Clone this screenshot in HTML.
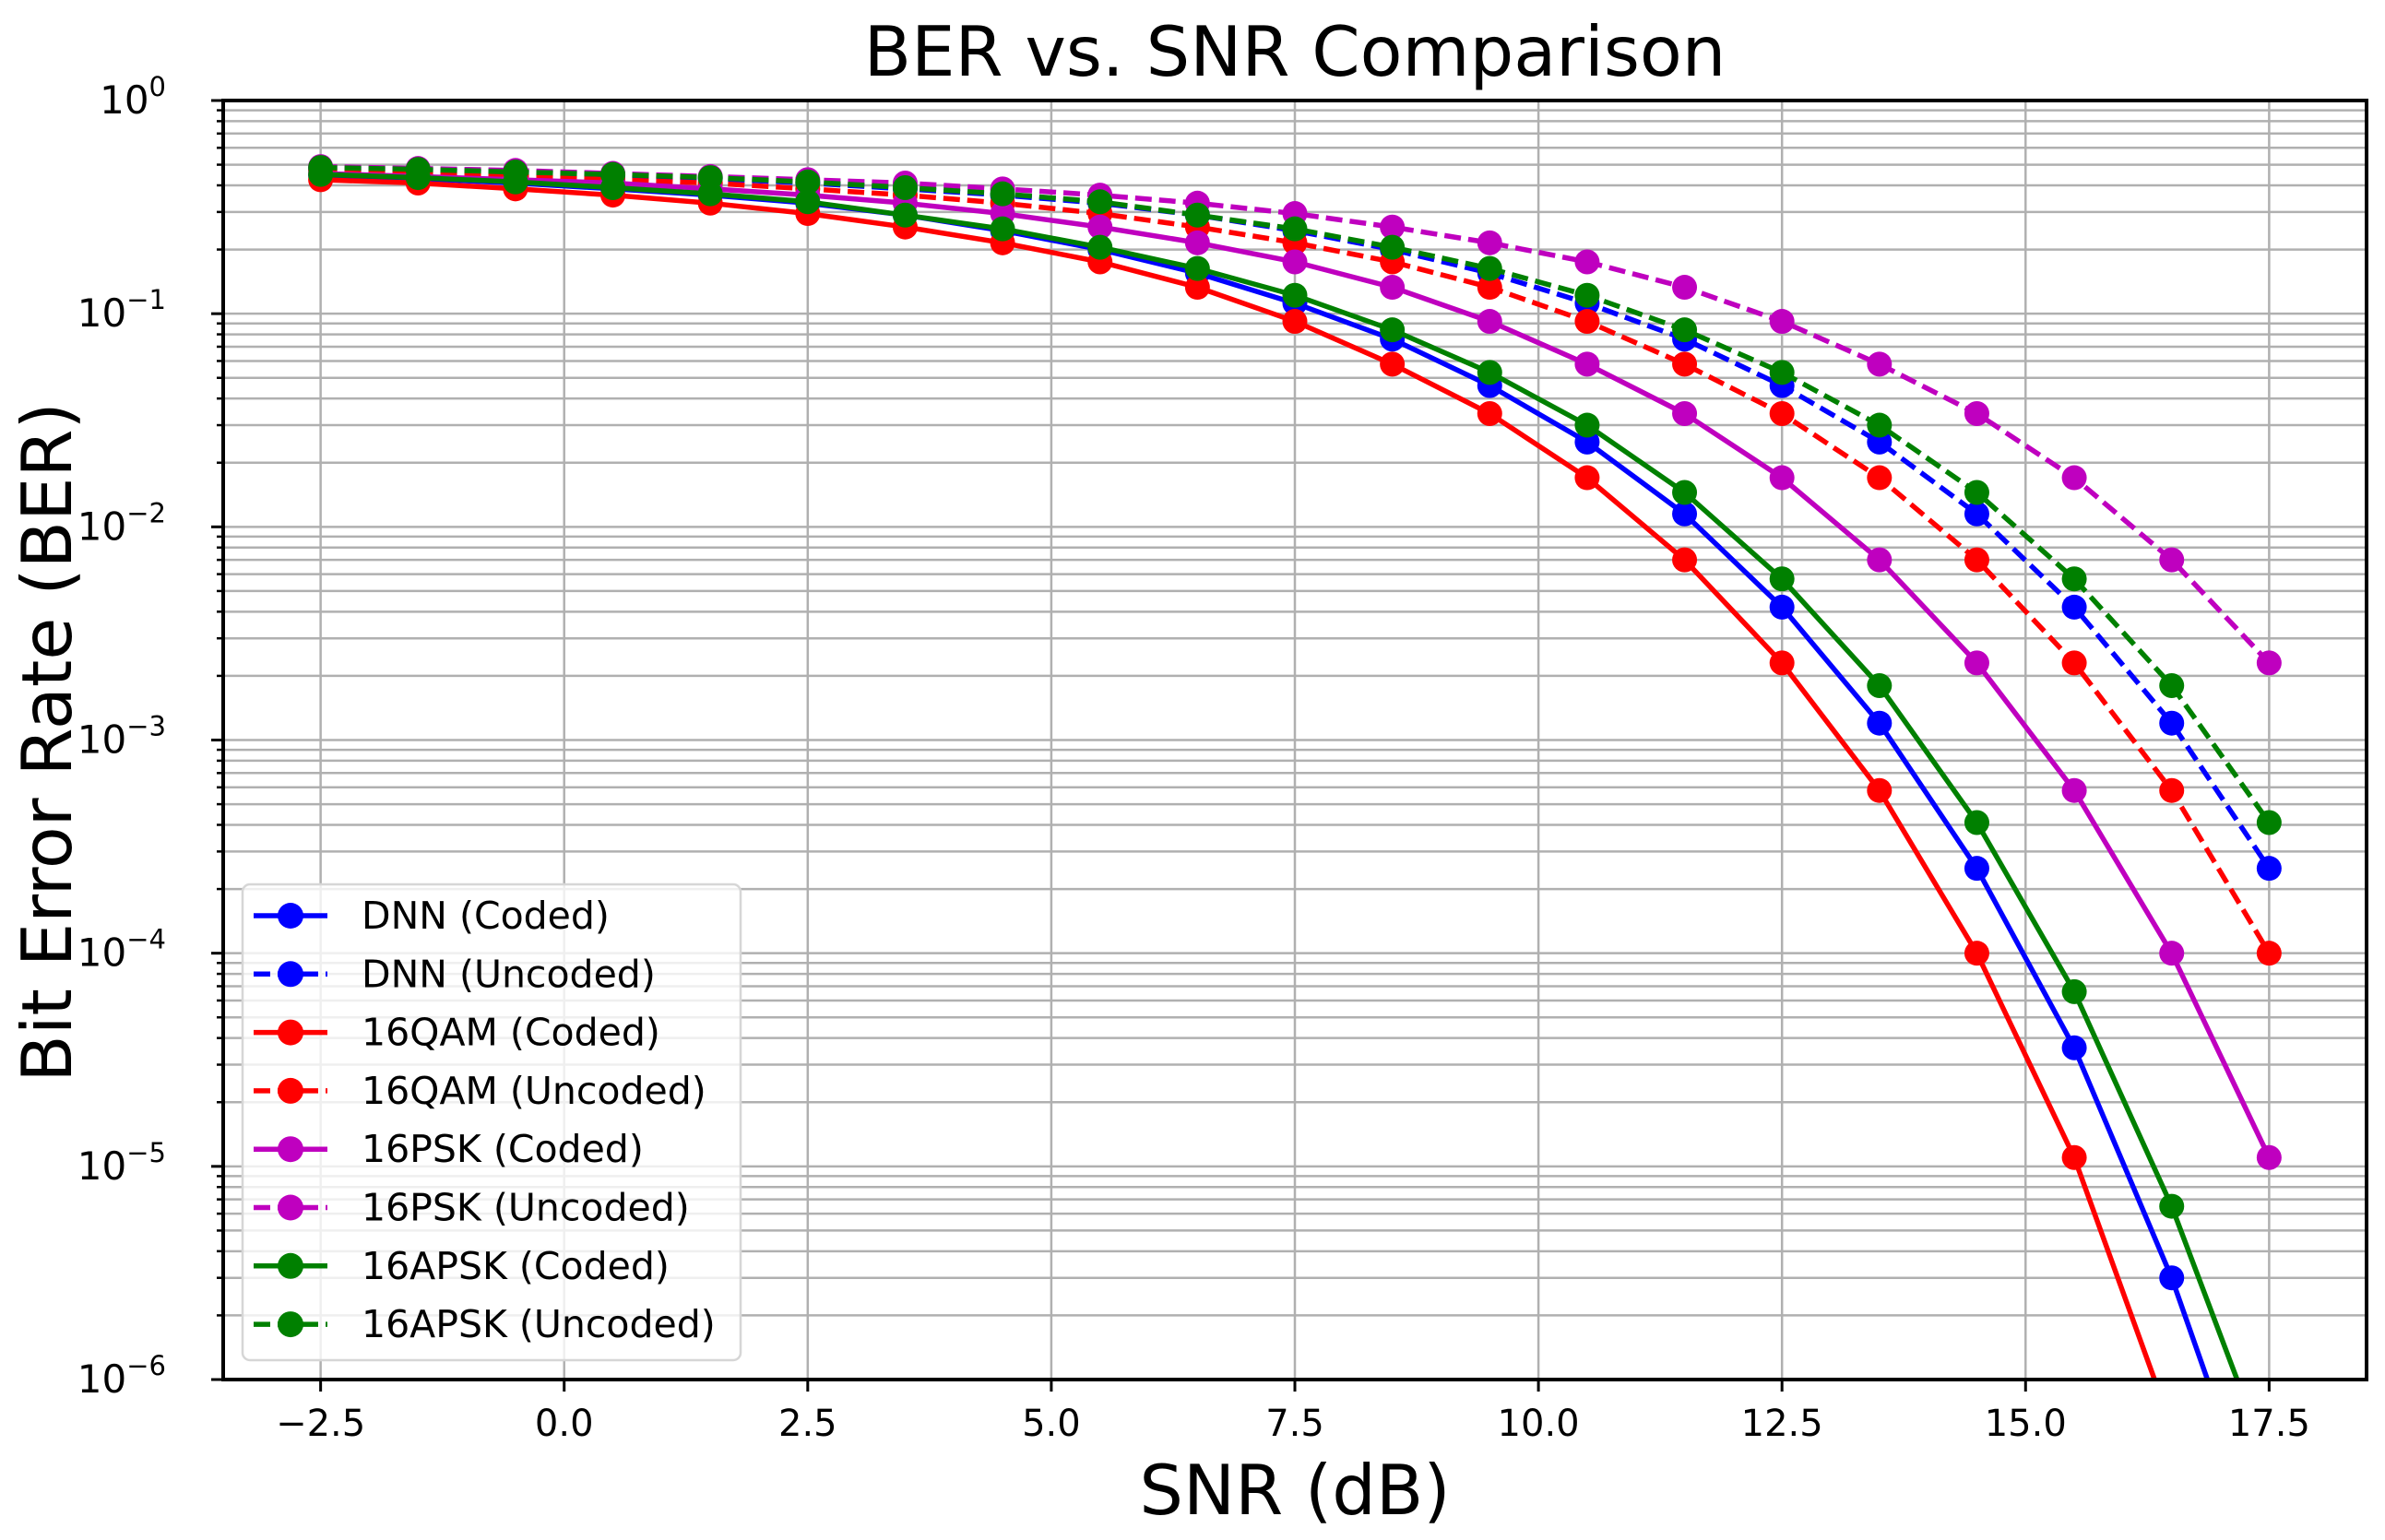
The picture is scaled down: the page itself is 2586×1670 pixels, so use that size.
<!DOCTYPE html>
<html><head><meta charset="utf-8"><style>
html,body{margin:0;padding:0;background:#fff;width:2586px;height:1670px;overflow:hidden;}
svg{display:block;font-family:"DejaVu Sans","Liberation Sans",sans-serif;}
</style></head><body>
<svg id="chart" width="2586" height="1670" viewBox="0 0 2586 1670">
<rect x="0" y="0" width="2586" height="1670" fill="#fff"/>
<defs><clipPath id="plotclip"><rect x="242" y="109" width="2324" height="1387"/></clipPath></defs>
<g id="grid"></g>
<g id="series" clip-path="url(#plotclip)"></g>
<rect x="242" y="109" width="2324" height="1387" fill="none" stroke="#000" stroke-width="4"/>
<g id="ticks"></g>
<text x="1404" y="82" text-anchor="middle" font-size="75" fill="#000">BER vs. SNR Comparison</text>
<text x="1404" y="1642" text-anchor="middle" font-size="75" fill="#000">SNR (dB)</text>
<text x="0" y="0" transform="translate(77,805) rotate(-90)" text-anchor="middle" font-size="75" fill="#000">Bit Error Rate (BER)</text>
<g id="legend"></g>
</svg>
<script>
const snr = [-2.5,-1.5,-0.5,0.5,1.5,2.5,3.5,4.5,5.5,6.5,7.5,8.5,9.5,10.5,11.5,12.5,13.5,14.5,15.5,16.5,17.5];
const xTicks = [-2.5,0.0,2.5,5.0,7.5,10.0,12.5,15.0,17.5];
const xTickLabels = ["\u22122.5","0.0","2.5","5.0","7.5","10.0","12.5","15.0","17.5"];
const yTickExps = [0,-1,-2,-3,-4,-5,-6];
const dnnCoded = [0.445,0.43,0.41,0.385,0.36,0.33,0.29,0.245,0.2,0.155,0.112,0.076,0.046,0.025,0.0115,0.0042,0.0012,0.00025,3.6e-5,3e-6,1.5e-7];
const dnnUncoded = [0.48,0.47,0.457,0.445,0.43,0.41,0.385,0.36,0.33,0.29,0.245,0.2,0.155,0.112,0.076,0.046,0.025,0.0115,0.0042,0.0012,0.00025];
const qamCoded = [0.425,0.41,0.385,0.36,0.33,0.295,0.255,0.215,0.175,0.133,0.092,0.058,0.034,0.017,0.007,0.0023,0.00058,0.0001,1.1e-5,6e-7,2e-8];
const qamUncoded = [0.47,0.455,0.44,0.425,0.41,0.385,0.36,0.33,0.295,0.255,0.215,0.175,0.133,0.092,0.058,0.034,0.017,0.007,0.0023,0.00058,0.0001];
const pskCoded = [0.455,0.44,0.425,0.41,0.385,0.36,0.33,0.295,0.255,0.215,0.175,0.133,0.092,0.058,0.034,0.017,0.007,0.0023,0.00058,0.0001,1.1e-5];
const pskUncoded = [0.49,0.48,0.47,0.455,0.44,0.425,0.41,0.385,0.36,0.33,0.295,0.255,0.215,0.175,0.133,0.092,0.058,0.034,0.017,0.007,0.0023];
const apskCoded = [0.45,0.435,0.415,0.39,0.365,0.335,0.29,0.25,0.205,0.163,0.122,0.084,0.053,0.03,0.0145,0.0057,0.0018,0.00041,6.6e-5,6.5e-6,4e-7];
const apskUncoded = [0.485,0.475,0.462,0.45,0.435,0.415,0.39,0.365,0.335,0.29,0.25,0.205,0.163,0.122,0.084,0.053,0.03,0.0145,0.0057,0.0018,0.00041];
const seriesNames = ["DNN (Coded)","DNN (Uncoded)","16QAM (Coded)","16QAM (Uncoded)","16PSK (Coded)","16PSK (Uncoded)","16APSK (Coded)","16APSK (Uncoded)"];

const NS="http://www.w3.org/2000/svg";
const L=242,R=2566,T=109,B=1496;
const xMin=-3.5,xMax=18.5,yMinExp=-6,yMaxExp=0;
function xs(v){return L+(v-xMin)/(xMax-xMin)*(R-L);}
function ys(v){return T+(yMaxExp-Math.log10(v))/(yMaxExp-yMinExp)*(B-T);}
function mk(tag,attrs,parent){const e=document.createElementNS(NS,tag);for(const k in attrs)e.setAttribute(k,attrs[k]);parent.appendChild(e);return e;}
const grid=document.getElementById('grid'),ticks=document.getElementById('ticks'),ser=document.getElementById('series'),leg=document.getElementById('legend');

xTicks.forEach((v,i)=>{
  const x=xs(v);
  const g=mk('line',{x1:x,x2:x,y1:T,y2:B,stroke:'#b0b0b0','stroke-width':2.5},grid);
  
  
  const t=mk('line',{x1:x,x2:x,y1:B,y2:B+13,stroke:'#000','stroke-width':3},ticks);
  
  
  const lb=mk('text',{x:x,y:1557,'text-anchor':'middle','font-size':40,fill:'#000'},ticks);
  lb.textContent=xTickLabels[i];
  
  
});
for(let e=yMinExp;e<=yMaxExp;e++){
  for(let m=1;m<=9;m++){
    if(e===yMaxExp&&m>1)break;
    const y=ys(m*Math.pow(10,e));
    const g=mk('line',{x1:L,x2:R,y1:y,y2:y,stroke:'#b0b0b0','stroke-width':2.5},grid);
    
    
    const t=mk('line',{x1:L-(m===1?13:7),x2:L,y1:y,y2:y,stroke:'#000','stroke-width':m===1?3:2.5},ticks);
    
    
  }
}
yTickExps.forEach(e=>{
  const y=ys(Math.pow(10,e));
  const lb=mk('text',{x:180,y:y+14,'text-anchor':'end','font-size':42,fill:'#000'},ticks);
  
  
  const base=document.createElementNS(NS,'tspan');base.textContent='10';lb.appendChild(base);
  const sup=document.createElementNS(NS,'tspan');sup.setAttribute('dy','-19');sup.setAttribute('font-size','29');sup.textContent=(e<0?'\u2212':'')+Math.abs(e);lb.appendChild(sup);
});

const allSeries=[dnnCoded,dnnUncoded,qamCoded,qamUncoded,pskCoded,pskUncoded,apskCoded,apskUncoded];
const colors=['#0000ff','#0000ff','#ff0000','#ff0000','#bf00bf','#bf00bf','#008000','#008000'];
const dashed=[false,true,false,true,false,true,false,true];
const slug=['dnn-coded','dnn-uncoded','16qam-coded','16qam-uncoded','16psk-coded','16psk-uncoded','16apsk-coded','16apsk-uncoded'];
allSeries.forEach((vals,si)=>{
  const g=mk('g',{},ser);
  
  
  const pts=vals.map((v,i)=>xs(snr[i]).toFixed(1)+','+ys(v).toFixed(1)).join(' ');
  const pl=mk('polyline',{points:pts,fill:'none',stroke:colors[si],'stroke-width':5.5,'stroke-linejoin':'round'},g);
  if(dashed[si])pl.setAttribute('stroke-dasharray','18 8');
  
  
  vals.forEach((v,i)=>{
    const c=mk('circle',{cx:xs(snr[i]),cy:ys(v),r:13.5,fill:colors[si]},g);
    
    
  });
});

const lb=mk('rect',{x:263,y:959,width:540,height:516,rx:8,fill:'#fff','fill-opacity':0.8,stroke:'#d6d6d6','stroke-width':2.5},leg);


seriesNames.forEach((n,si)=>{
  const y=993+si*63.3;
  const g=mk('g',{},leg);
  
  
  const ln=mk('line',{x1:275,x2:355,y1:y,y2:y,stroke:colors[si],'stroke-width':5.5},g);
  if(dashed[si])ln.setAttribute('stroke-dasharray','18 8');
  mk('circle',{cx:315,cy:y,r:14,fill:colors[si]},g);
  const t=mk('text',{x:392,y:y+14,'font-size':41,fill:'#000'},g);
  t.textContent=n;
});
</script>
</body></html>
